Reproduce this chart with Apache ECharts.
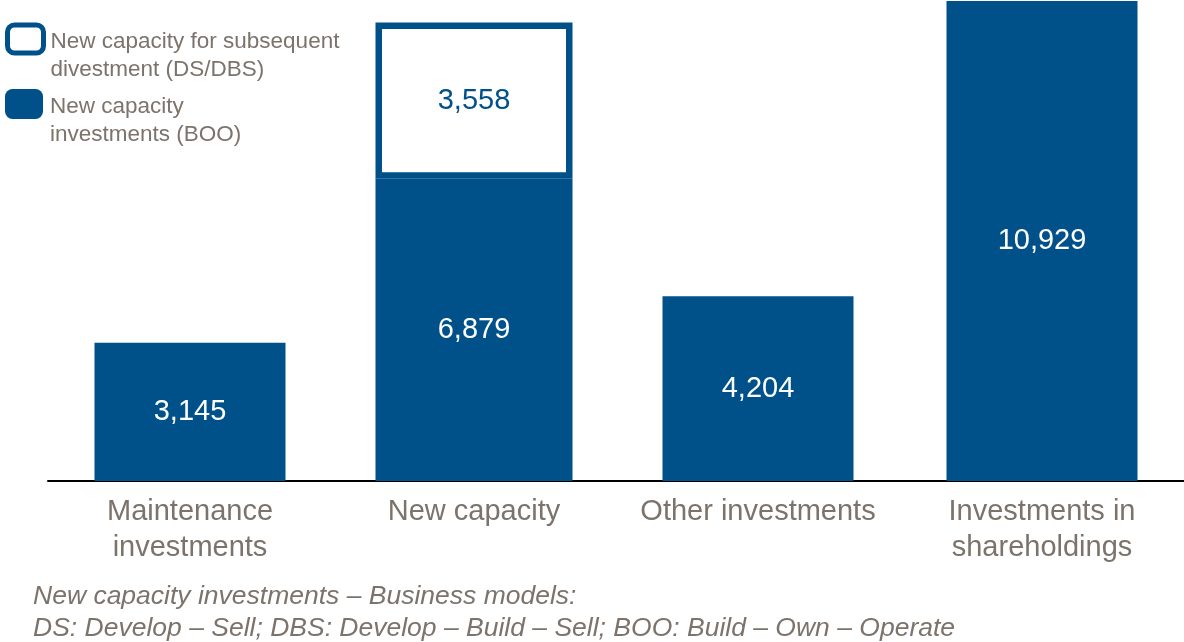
<!DOCTYPE html>
<html>
<head>
<meta charset="utf-8">
<script src="https://cdn.jsdelivr.net/npm/echarts@6/dist/echarts.min.js"></script>
<style>
  html, body { margin: 0; padding: 0; background: #ffffff; }
  #chart { width: 1184px; height: 642px; }
</style>
</head>
<body>
<div id="chart"></div>
<script>
// ---- data ----
const categories = ['Maintenance\ninvestments', 'New capacity', 'Other investments', 'Investments in\nshareholdings'];
const otherValues = [3145, '-', 4204, 10929];   // plain investment bars
const booValues   = ['-', 6879, '-', '-'];      // New capacity investments (BOO)
const dsValues    = ['-', 3558, '-', '-'];      // New capacity for subsequent divestment (DS/DBS)
const seriesNames = ['New capacity for subsequent\ndivestment (DS/DBS)', 'New capacity\ninvestments (BOO)'];
const footnoteLines = [
  'New capacity investments \u2013 Business models:',
  'DS: Develop \u2013 Sell; DBS: Develop \u2013 Build \u2013 Sell; BOO: Build \u2013 Own \u2013 Operate'
];

// ---- style ----
const BLUE = '#00518A';
const GRAY = '#7b736c';
const FONT = "'Liberation Sans', Arial, Helvetica, sans-serif";

const fmt = p => Number(p.value).toLocaleString('en-US');

const chart = echarts.init(document.getElementById('chart'), null, { renderer: 'canvas' });

const legendText = {
  fontFamily: FONT, fontSize: 22.5, lineHeight: 28, color: GRAY,
  padding: [0, 0, 0, 2],
  rich: { p: { fontSize: 10, lineHeight: 34 } }
};
const legendFmt = name => '{p| }\n' + name;

chart.setOption({
  animation: false,
  backgroundColor: '#ffffff',
  textStyle: { fontFamily: FONT },
  title: {
    text: footnoteLines.join('\n'),
    left: 28, top: 576,
    textStyle: { fontFamily: FONT, fontSize: 26.5, lineHeight: 32, fontStyle: 'italic', fontWeight: 'normal', color: GRAY }
  },
  legend: [
    {
      data: [{ name: seriesNames[0], icon: 'roundRect',
               itemStyle: { color: '#ffffff', borderColor: BLUE, borderWidth: 5 } }],
      orient: 'vertical', left: 5, top: -6, padding: 0,
      itemWidth: 36, itemHeight: 28, selectedMode: false,
      formatter: legendFmt,
      textStyle: legendText
    },
    {
      data: [{ name: seriesNames[1], icon: 'roundRect',
               itemStyle: { color: BLUE, borderWidth: 0 } }],
      orient: 'vertical', left: 5, top: 59, padding: 0,
      itemWidth: 38, itemHeight: 30, selectedMode: false,
      formatter: legendFmt,
      textStyle: legendText
    }
  ],
  grid: { left: 48, width: 1142, top: 0, bottom: 161, containLabel: false },
  xAxis: [
    {
      type: 'category',
      data: categories,
      axisTick: { show: false },
      axisLine: { show: true, lineStyle: { color: '#000000', width: 2 } },
      axisLabel: { margin: 13, fontFamily: FONT, fontSize: 29, lineHeight: 36, color: GRAY, interval: 0 }
    },
    {
      type: 'category',
      data: categories,
      show: false
    }
  ],
  yAxis: { type: 'value', min: 0, max: 10950, show: false, splitLine: { show: false } },
  series: [
    {
      name: 'Investments', type: 'bar', stack: 'total', barWidth: 191, xAxisIndex: 0,
      data: otherValues,
      itemStyle: { color: BLUE },
      label: { show: true, position: 'inside', formatter: fmt, color: '#ffffff', fontSize: 29, fontFamily: FONT }
    },
    {
      name: seriesNames[1], type: 'bar', stack: 'newcap', barWidth: 197, xAxisIndex: 1,
      data: booValues,
      itemStyle: { color: BLUE, borderColor: BLUE, borderWidth: 6.5 },
      label: { show: true, position: 'inside', formatter: fmt, color: '#ffffff', fontSize: 29, fontFamily: FONT }
    },
    {
      name: seriesNames[0], type: 'bar', stack: 'newcap', barWidth: 197, xAxisIndex: 1,
      data: dsValues,
      itemStyle: { color: '#ffffff', borderColor: BLUE, borderWidth: 6.5 },
      label: { show: true, position: 'inside', formatter: fmt, color: BLUE, fontSize: 29, fontFamily: FONT }
    }
  ]
});
</script>
</body>
</html>
